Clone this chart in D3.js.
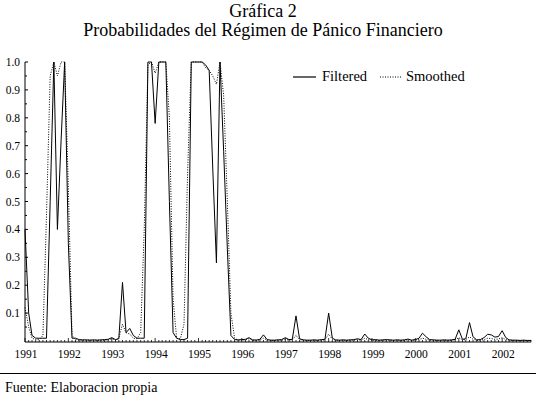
<!DOCTYPE html>
<html>
<head>
<meta charset="utf-8">
<script src="https://cdn.jsdelivr.net/npm/d3@7"></script>
<style>
  body { margin: 0; background: #fff; }
  svg text { font-family: "Liberation Serif", "Times New Roman", serif; }
</style>
</head>
<body>
<div id="chart"></div>
<script>
// datos mensuales, ene-1991 a sep-2002
const startYear = 1991;
const filtered = [
  0.40, 0.10, 0.02, 0.01, 0.01, 0.01, 0.01, 0.50, 1.00, 0.40, 0.72, 1.00,
  0.35, 0.01, 0.01, 0.005, 0.004, 0.004, 0.003, 0.004, 0.003, 0.004, 0.005, 0.006,
  0.012, 0.005, 0.008, 0.21, 0.03, 0.045, 0.02, 0.01, 0.01, 0.01, 1.00, 1.00,
  0.78, 1.00, 1.00, 1.00, 0.50, 0.03, 0.01, 0.005, 0.005, 0.01, 1.00, 1.00,
  1.00, 1.00, 0.99, 0.97, 0.62, 0.28, 1.00, 0.68, 0.33, 0.02, 0.005, 0.004,
  0.005, 0.006, 0.012, 0.004, 0.003, 0.006, 0.022, 0.005, 0.003, 0.003, 0.004, 0.005,
  0.012, 0.005, 0.006, 0.09, 0.008, 0.004, 0.003, 0.003, 0.004, 0.003, 0.005, 0.006,
  0.10, 0.01, 0.004, 0.003, 0.004, 0.003, 0.004, 0.005, 0.008, 0.005, 0.025, 0.01,
  0.004, 0.005, 0.003, 0.004, 0.005, 0.004, 0.003, 0.004, 0.003, 0.004, 0.007, 0.003,
  0.005, 0.01, 0.028, 0.015, 0.005, 0.004, 0.003, 0.003, 0.004, 0.003, 0.004, 0.006,
  0.04, 0.006, 0.008, 0.066, 0.015, 0.004, 0.005, 0.012, 0.024, 0.022, 0.014, 0.016,
  0.037, 0.012, 0.004, 0.003, 0.003, 0.002, 0.003, 0.002, 0.002
];
const smoothed = [
  0.12, 0.05, 0.01, 0.005, 0.005, 0.02, 0.45, 0.95, 1.00, 0.95, 1.00, 1.00,
  0.55, 0.02, 0.005, 0.003, 0.003, 0.003, 0.003, 0.003, 0.003, 0.003, 0.003, 0.004,
  0.008, 0.004, 0.01, 0.06, 0.03, 0.025, 0.01, 0.008, 0.03, 0.40, 0.99, 1.00,
  0.96, 1.00, 1.00, 1.00, 0.80, 0.15, 0.01, 0.008, 0.06, 0.60, 1.00, 1.00,
  1.00, 1.00, 0.98, 0.97, 0.95, 0.92, 1.00, 0.88, 0.50, 0.10, 0.01, 0.003,
  0.003, 0.004, 0.008, 0.003, 0.003, 0.004, 0.01, 0.004, 0.002, 0.002, 0.003, 0.003,
  0.006, 0.003, 0.004, 0.02, 0.005, 0.003, 0.002, 0.002, 0.003, 0.002, 0.003, 0.004,
  0.025, 0.006, 0.003, 0.002, 0.003, 0.002, 0.003, 0.003, 0.005, 0.003, 0.01, 0.005,
  0.003, 0.003, 0.002, 0.003, 0.003, 0.003, 0.002, 0.003, 0.002, 0.003, 0.004, 0.002,
  0.003, 0.005, 0.01, 0.006, 0.003, 0.003, 0.002, 0.002, 0.003, 0.002, 0.003, 0.004,
  0.012, 0.004, 0.005, 0.015, 0.006, 0.003, 0.003, 0.005, 0.01, 0.009, 0.006, 0.007,
  0.012, 0.005, 0.003, 0.002, 0.002, 0.002, 0.002, 0.002, 0.002
];
const yTicks = [0.1, 0.2, 0.3, 0.4, 0.5, 0.6, 0.7, 0.8, 0.9, 1.0];
const yearLabels = [1991, 1992, 1993, 1994, 1995, 1996, 1997, 1998, 1999, 2000, 2001, 2002];
const seriesNames = ["Filtered", "Smoothed"];

const W = 536, H = 399;
const svg = d3.select("#chart").append("svg")
  .attr("width", W).attr("height", H);

const dates = filtered.map((d, i) => new Date(startYear, i, 1));

const x = d3.scaleTime()
  .domain([dates[0], dates[dates.length - 1]])
  .range([25, 531]);
const y = d3.scaleLinear().domain([0, 1]).range([341, 62]);

// títulos
svg.append("text").attr("x", 263).attr("y", 17).attr("text-anchor", "middle")
  .attr("font-size", 18).text("Gráfica 2");
svg.append("text").attr("x", 263).attr("y", 36).attr("text-anchor", "middle")
  .attr("font-size", 18).text("Probabilidades del Régimen de Pánico Financiero");

// eje y
const yAxis = svg.append("g").attr("transform", "translate(25,0)");
yAxis.append("line").attr("x1", 0).attr("x2", 0).attr("y1", y(1)).attr("y2", 342)
  .attr("stroke", "#000");
yAxis.selectAll(".minor").data(d3.range(0.05, 1.0, 0.1)).join("line")
  .attr("x1", 0).attr("x2", 2).attr("y1", d => y(d)).attr("y2", d => y(d))
  .attr("stroke", "#000");
yAxis.selectAll(".major").data(yTicks).join("line")
  .attr("x1", 0).attr("x2", 3).attr("y1", d => y(d)).attr("y2", d => y(d))
  .attr("stroke", "#000");
yAxis.selectAll("text").data(yTicks).join("text")
  .attr("x", -5).attr("y", d => y(d)).attr("dy", "0.35em")
  .attr("text-anchor", "end").attr("font-size", 11.5)
  .text(d3.format(".1f"));

// eje x
const xAxis = svg.append("g").attr("transform", "translate(0,342)");
xAxis.append("line").attr("x1", 25).attr("x2", 531).attr("y1", 0).attr("y2", 0)
  .attr("stroke", "#000");
xAxis.selectAll(".mt").data(dates).join("line")
  .attr("x1", d => x(d)).attr("x2", d => x(d))
  .attr("y1", 0).attr("y2", d => d.getMonth() === 0 ? -4 : -2)
  .attr("stroke", "#000").attr("stroke-width", 0.8);
xAxis.selectAll("text").data(yearLabels).join("text")
  .attr("x", d => x(new Date(d, 0, 1)) + 1).attr("y", 16)
  .attr("text-anchor", "middle").attr("font-size", 11.5)
  .text(d => d);

// líneas
const line = d3.line().x((d, i) => x(dates[i])).y(d => y(d));
svg.append("path").datum(smoothed).attr("d", line)
  .attr("fill", "none").attr("stroke", "#000").attr("stroke-width", 1)
  .attr("stroke-dasharray", "1,1.5");
svg.append("path").datum(filtered).attr("d", line)
  .attr("fill", "none").attr("stroke", "#000").attr("stroke-width", 1);

// leyenda
const legend = svg.append("g");
legend.append("line").attr("x1", 293).attr("x2", 316).attr("y1", 77).attr("y2", 77)
  .attr("stroke", "#000").attr("stroke-width", 1.2);
legend.append("text").attr("x", 322).attr("y", 81).attr("font-size", 14.5).text(seriesNames[0]);
legend.append("line").attr("x1", 380).attr("x2", 401).attr("y1", 77).attr("y2", 77)
  .attr("stroke", "#000").attr("stroke-dasharray", "1,1.5");
legend.append("text").attr("x", 406).attr("y", 81).attr("font-size", 14.5).text(seriesNames[1]);

// fuente
svg.append("line").attr("x1", 0).attr("x2", W).attr("y1", 373.5).attr("y2", 373.5)
  .attr("stroke", "#000");
svg.append("text").attr("x", 5).attr("y", 392).attr("font-size", 14)
  .text("Fuente: Elaboracion propia");
</script>
</body>
</html>
